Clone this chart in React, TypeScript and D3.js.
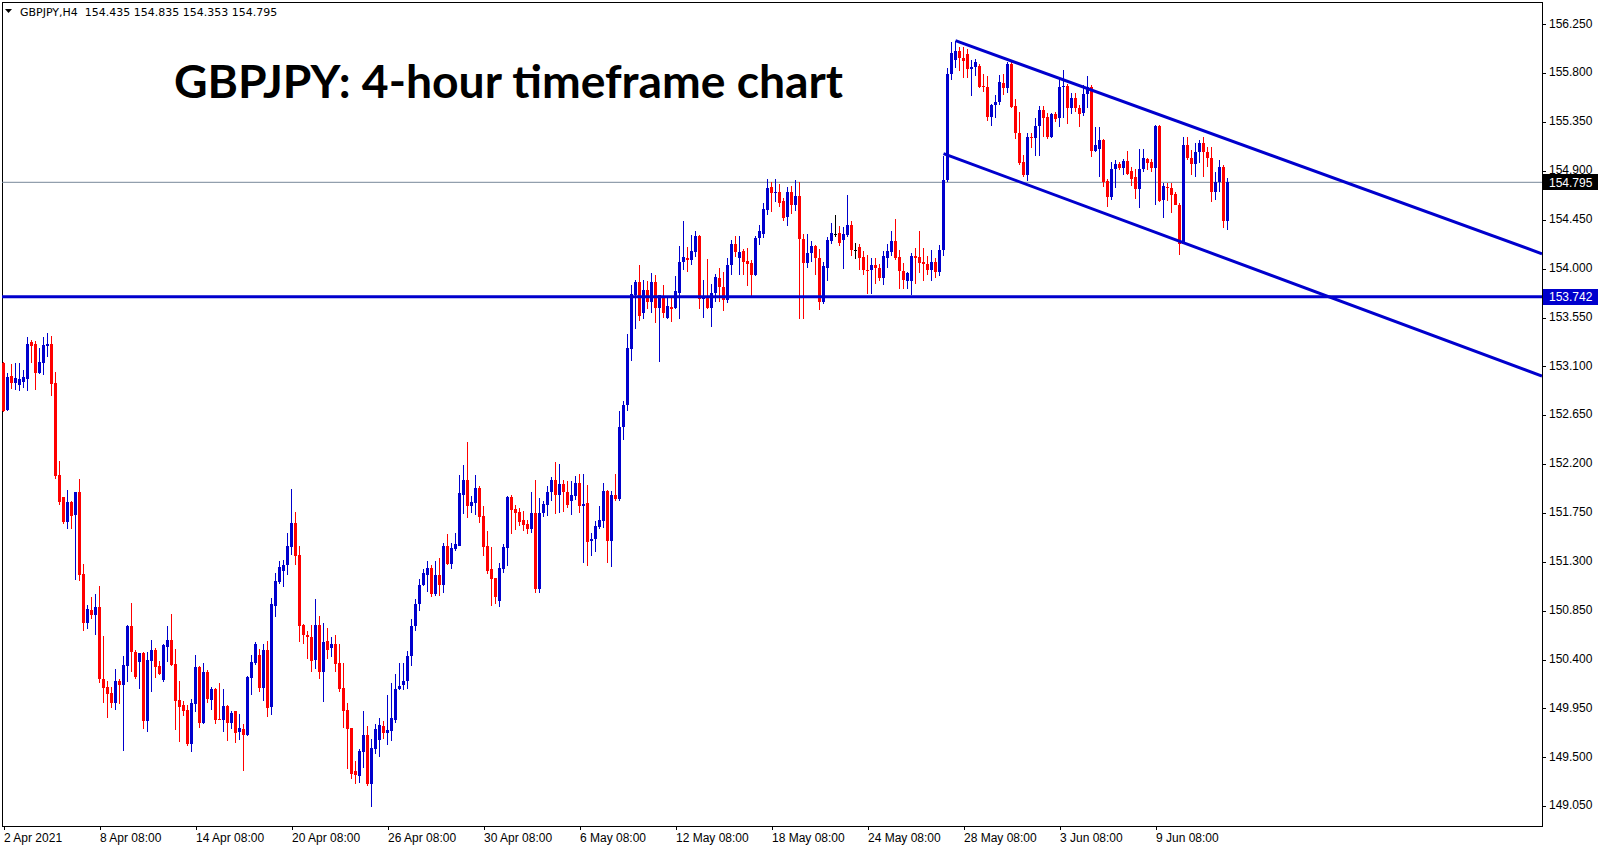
import React from 'react';
import * as d3 from 'd3';

const W = 1607;
const H = 850;

// 4-hour bars from 2 Apr 2021 08:00, [open, high, low, close]
const ohlc: [number, number, number, number][] = [
  [153.13,153.14,152.68,152.69],[152.70,153.04,152.69,153.00],[153.01,153.12,152.89,152.95],[152.95,153.13,152.88,152.99],
  [152.93,153.13,152.87,152.98],[152.96,153.07,152.90,153.00],[152.98,153.37,152.87,153.31],[153.32,153.34,153.13,153.29],
  [153.31,153.33,152.88,153.04],[153.04,153.27,153.03,153.14],[153.13,153.37,153.02,153.30],[153.29,153.41,153.19,153.31],
  [153.31,153.38,152.83,152.94],[152.95,153.05,152.06,152.09],[152.10,152.23,151.82,151.85],[151.90,151.90,151.65,151.67],
  [151.67,151.96,151.60,151.85],[151.85,151.86,151.60,151.72],[151.73,151.94,151.13,151.94],[151.94,152.06,151.12,151.18],
  [151.19,151.28,150.66,150.74],[150.74,150.90,150.68,150.87],[150.86,150.98,150.77,150.81],[150.81,151.00,150.63,150.88],
  [150.88,151.08,150.18,150.22],[150.22,150.62,150.00,150.14],[150.15,150.20,149.86,150.08],[150.09,150.15,149.95,150.00],
  [150.00,150.31,149.94,150.20],[150.20,150.22,149.99,150.17],[150.17,150.43,149.56,150.35],[150.34,150.72,150.19,150.71],
  [150.71,150.92,150.29,150.47],[150.47,150.49,150.22,150.24],[150.38,150.46,150.13,150.46],[150.46,150.47,149.76,149.83],
  [149.83,150.47,149.73,150.40],[150.39,150.58,150.10,150.49],[150.49,150.51,150.23,150.33],[150.34,150.39,150.26,150.27],
  [150.21,150.54,150.19,150.53],[150.52,150.71,150.38,150.58],[150.58,150.82,150.34,150.35],[150.36,150.50,149.75,150.02],
  [150.03,150.20,149.64,149.96],[149.98,150.02,149.88,149.93],[149.94,149.98,149.60,149.62],[149.62,150.04,149.55,150.00],
  [149.99,150.44,149.92,150.33],[150.33,150.34,149.77,149.82],[149.82,150.37,149.81,150.29],[150.29,150.30,150.00,150.04],
  [150.03,150.15,149.94,150.13],[150.13,150.14,149.81,149.84],[149.85,150.18,149.84,149.84],[149.84,150.13,149.73,149.97],
  [149.97,149.98,149.65,149.82],[149.82,149.93,149.76,149.91],[149.93,149.93,149.63,149.72],[149.73,149.90,149.66,149.77],
  [149.76,149.81,149.37,149.71],[149.71,150.25,149.70,150.24],[150.23,150.44,150.07,150.38],[150.37,150.56,150.35,150.54],
  [150.44,150.50,150.10,150.14],[150.14,150.54,150.02,150.49],[150.49,150.57,149.87,149.95],[149.96,150.97,149.89,150.91],
  [150.89,151.20,150.79,151.12],[151.11,151.31,151.10,151.25],[151.22,151.32,151.07,151.27],[151.27,151.57,151.18,151.45],
  [151.44,151.97,151.36,151.66],[151.66,151.76,151.27,151.35],[151.36,151.45,150.56,150.71],[150.72,150.73,150.54,150.63],
  [150.63,150.66,150.41,150.61],[150.61,150.72,150.29,150.39],[150.40,150.96,150.31,150.72],[150.72,150.80,150.22,150.29],
  [150.29,150.74,150.01,150.56],[150.57,150.69,150.41,150.49],[150.51,150.61,150.42,150.54],[150.54,150.63,150.29,150.36],
  [150.37,150.54,150.10,150.13],[150.14,150.37,149.77,149.93],[149.94,150.00,149.39,149.76],[149.77,149.77,149.30,149.35],
  [149.37,149.47,149.25,149.34],[149.33,149.58,149.26,149.56],[149.55,149.93,149.40,149.71],[149.71,149.79,149.24,149.25],
  [149.25,149.67,149.04,149.59],[149.58,149.81,149.53,149.76],[149.66,149.86,149.50,149.80],[149.79,149.83,149.67,149.72],
  [149.72,150.07,149.61,149.75],[149.74,150.18,149.65,149.86],[149.84,150.27,149.82,150.13],[150.13,150.37,150.12,150.16],
  [150.17,150.37,150.12,150.20],[150.20,150.48,150.13,150.43],[150.43,150.77,150.34,150.71],[150.71,150.96,150.66,150.91],
  [150.91,151.14,150.85,151.09],[151.09,151.23,151.08,151.20],[151.18,151.31,151.02,151.24],[151.24,151.27,150.98,151.00],
  [151.00,151.31,150.99,151.18],[151.18,151.34,150.99,151.09],[151.09,151.47,151.01,151.45],[151.45,151.56,151.27,151.28],
  [151.28,151.47,151.23,151.43],[151.42,151.57,151.40,151.46],[151.45,152.10,151.45,151.93],[151.92,152.19,151.74,152.05],
  [152.05,152.40,151.70,151.81],[151.81,151.91,151.75,151.85],[151.84,152.10,151.73,151.98],[151.98,152.00,151.66,151.71],
  [151.72,151.81,151.35,151.44],[151.45,151.58,151.19,151.22],[151.23,151.44,150.89,151.14],[151.15,151.15,150.91,150.98],
  [150.94,151.29,150.88,151.24],[151.23,151.46,151.20,151.44],[151.43,151.91,151.26,151.90],[151.90,151.92,151.56,151.78],
  [151.79,151.82,151.59,151.75],[151.76,151.80,151.63,151.67],[151.69,151.77,151.58,151.64],[151.65,151.69,151.56,151.60],
  [151.60,151.94,151.57,151.75],[151.75,152.05,151.01,151.05],[151.05,151.89,151.01,151.75],[151.75,151.86,151.71,151.83],
  [151.82,152.00,151.72,151.94],[151.94,152.08,151.86,152.05],[152.05,152.22,151.74,151.92],[151.92,152.20,151.75,152.02],
  [152.02,152.05,151.76,151.94],[151.94,152.04,151.80,151.82],[151.86,152.04,151.73,151.92],[151.91,152.09,151.87,152.03],
  [152.03,152.11,151.75,151.81],[151.81,152.11,151.29,151.83],[151.84,152.01,151.26,151.48],[151.49,151.57,151.35,151.51],
  [151.51,151.68,151.39,151.63],[151.62,151.81,151.60,151.69],[151.68,152.03,151.61,151.95],[151.95,151.96,151.29,151.49],
  [151.49,151.95,151.25,151.92],[151.92,152.11,151.86,151.88],[151.88,152.69,151.86,152.54],[152.54,152.78,152.42,152.74],
  [152.74,153.40,152.69,153.27],[153.26,153.85,153.15,153.77],[153.76,153.90,153.44,153.88],[153.88,154.03,153.52,153.56],
  [153.59,153.90,153.54,153.80],[153.80,153.89,153.63,153.69],[153.69,153.96,153.59,153.88],[153.88,153.94,153.50,153.64],
  [153.64,153.76,153.14,153.76],[153.74,153.85,153.55,153.59],[153.55,153.73,153.54,153.66],[153.65,153.74,153.51,153.63],
  [153.64,153.93,153.63,153.79],[153.78,154.21,153.54,154.06],[154.06,154.44,153.99,154.11],[154.10,154.20,153.97,154.08],
  [154.08,154.31,154.03,154.16],[154.15,154.35,154.11,154.30],[154.30,154.31,153.63,153.72],[153.72,153.90,153.55,153.75],
  [153.75,154.09,153.63,153.64],[153.64,153.86,153.46,153.78],[153.78,153.95,153.69,153.92],[153.91,154.01,153.69,153.83],
  [153.83,153.97,153.61,153.71],[153.71,154.10,153.68,154.03],[154.03,154.26,153.94,154.23],[154.23,154.30,154.11,154.15],
  [154.10,154.30,153.94,154.15],[154.16,154.18,153.94,154.06],[154.07,154.19,153.84,154.04],[154.05,154.08,153.75,153.94],
  [153.94,154.30,153.93,154.28],[154.28,154.40,154.22,154.35],[154.32,154.60,154.28,154.55],[154.54,154.83,154.49,154.74],
  [154.75,154.80,154.52,154.70],[154.70,154.83,154.61,154.71],[154.71,154.78,154.57,154.60],[154.62,154.65,154.44,154.47],
  [154.48,154.75,154.39,154.71],[154.71,154.76,154.50,154.59],[154.59,154.82,154.53,154.67],[154.67,154.80,153.54,154.27],
  [154.27,154.32,153.54,154.05],[154.05,154.32,154.01,154.14],[154.14,154.25,154.06,154.21],[154.21,154.22,153.94,154.10],
  [154.10,154.18,153.62,153.69],[153.69,154.06,153.67,154.02],[154.01,154.29,153.89,154.26],[154.25,154.42,154.23,154.33],
  [154.32,154.49,154.29,154.32],[154.33,154.39,154.21,154.24],[154.26,154.38,154.00,154.32],[154.31,154.68,154.29,154.40],
  [154.40,154.44,154.12,154.17],[154.17,154.24,154.09,154.17],[154.20,154.23,153.99,154.10],[154.11,154.16,153.94,153.99],
  [153.99,154.13,153.77,153.98],[153.99,154.10,153.77,154.03],[154.03,154.10,153.86,154.01],[154.01,154.04,153.89,153.91],
  [153.91,154.16,153.85,154.12],[154.10,154.23,154.01,154.16],[154.15,154.35,154.12,154.25],[154.25,154.46,154.08,154.10],
  [154.11,154.17,153.81,153.98],[153.98,154.05,153.81,153.90],[153.89,153.97,153.81,153.96],[153.89,154.14,153.76,154.12],
  [154.12,154.19,153.86,154.10],[154.11,154.35,153.96,154.05],[154.06,154.19,153.89,154.04],[154.04,154.12,153.94,153.99],
  [153.99,154.17,153.89,154.06],[154.06,154.10,153.91,153.97],[153.97,154.22,153.93,154.17],[154.17,155.04,154.12,154.82],
  [154.82,155.85,154.80,155.79],[155.79,156.09,155.74,155.99],[155.92,156.10,155.85,156.00],[156.00,156.04,155.82,155.94],
  [155.94,156.04,155.76,155.91],[155.98,156.02,155.76,155.84],[155.84,155.92,155.59,155.86],[155.86,155.93,155.77,155.90],
  [155.87,155.88,155.66,155.67],[155.68,155.79,155.63,155.67],[155.67,155.77,155.36,155.40],[155.40,155.52,155.31,155.51],
  [155.51,155.60,155.39,155.53],[155.53,155.78,155.51,155.72],[155.71,155.79,155.60,155.66],[155.66,155.90,155.62,155.88],
  [155.88,155.90,155.48,155.49],[155.50,155.56,155.19,155.25],[155.25,155.44,154.95,154.97],[154.98,155.05,154.84,154.86],
  [154.86,155.25,154.81,155.21],[155.21,155.25,155.11,155.20],[155.20,155.39,155.04,155.31],[155.31,155.50,155.04,155.46],
  [155.46,155.50,155.21,155.39],[155.40,155.43,155.19,155.21],[155.21,155.43,155.20,155.42],[155.42,155.44,155.35,155.38],
  [155.39,155.74,155.30,155.67],[155.67,155.83,155.39,155.68],[155.68,155.70,155.33,155.48],[155.48,155.62,155.42,155.57],
  [155.57,155.62,155.44,155.48],[155.48,155.51,155.30,155.42],[155.43,155.69,155.41,155.61],[155.61,155.77,155.48,155.67],
  [155.67,155.69,155.03,155.08],[155.08,155.30,155.07,155.14],[155.10,155.30,154.84,155.18],[155.18,155.19,154.75,154.80],
  [154.81,154.83,154.57,154.66],[154.66,154.98,154.63,154.92],[154.92,155.00,154.74,154.96],[154.96,154.98,154.91,154.93],
  [154.93,155.01,154.86,154.99],[154.99,155.08,154.86,154.87],[154.90,154.94,154.76,154.83],[154.84,154.92,154.64,154.73],
  [154.73,155.10,154.56,154.92],[154.92,155.10,154.89,155.02],[155.01,155.02,154.91,154.97],[154.98,155.01,154.89,154.93],
  [154.93,155.32,154.59,155.31],[155.31,155.32,154.61,154.62],[154.63,154.79,154.47,154.76],[154.75,154.79,154.62,154.74],
  [154.74,154.79,154.51,154.68],[154.69,154.71,154.59,154.59],[154.59,154.60,154.13,154.23],[154.23,155.21,154.23,155.14],
  [155.14,155.21,155.00,155.02],[155.02,155.09,154.86,154.96],[154.96,155.16,154.84,155.07],[155.07,155.18,154.97,155.16],
  [155.16,155.21,154.84,155.07],[155.07,155.12,154.94,155.02],[155.02,155.12,154.61,154.71],[154.71,154.89,154.63,154.80],
  [154.80,155.00,154.71,154.94],[154.94,154.95,154.37,154.435],[154.435,154.835,154.353,154.795],
];

// one time label every 24 bars (4 trading days)
const timeLabels = [
  '2 Apr 2021', '8 Apr 08:00', '14 Apr 08:00', '20 Apr 08:00', '26 Apr 08:00', '30 Apr 08:00', '6 May 08:00',
  '12 May 08:00', '18 May 08:00', '24 May 08:00', '28 May 08:00', '3 Jun 08:00', '9 Jun 08:00',
];
const barsPerLabel = 24;

const priceTicks = [
  156.25, 155.8, 155.35, 154.9, 154.45, 154.0, 153.55, 153.1, 152.65, 152.2, 151.75, 151.3, 150.85, 150.4, 149.95, 149.5, 149.05,
];

const supportLevel = 153.742;
const lastPrice = 154.795;

// trend channel anchors: [bar index, price]
const channelUpper: [number, number][] = [[238, 156.1], [300, 155.27]];
const channelLower: [number, number][] = [[235, 155.06], [300, 154.17]];

const BLUE = '#0000cd';
const RED = '#ff0000';
const AXIS_FONT = '"Liberation Sans", Arial, sans-serif';

const left = 2;
const right = 1542;
const top = 2;
const bottom = 826;

const App: React.FC = () => {
  // 4px per bar
  const x = d3.scaleLinear().domain([0, 1]).range([3.5, 7.5]);
  const y = d3.scaleLinear().domain([149.05, 156.25]).range([806.2, 24.3]);
  const lastBar = x.invert(right);

  // extend a two-point trend line out to the right edge of the plot
  const ray = (pts: [number, number][]) => {
    const [[i0, p0], [i1, p1]] = pts;
    const slope = (p1 - p0) / (i1 - i0);
    return d3.line()([
      [x(i0), y(p0)],
      [x(lastBar), y(p0 + slope * (lastBar - i0))],
    ]) as string;
  };

  return (
    <svg width={W} height={H} style={{ position: 'absolute', left: 0, top: 0, background: '#fff' }}>
      <defs>
        <clipPath id="plot">
          <rect x={left} y={top} width={right - left} height={bottom - top} />
        </clipPath>
      </defs>
      <rect x={0} y={0} width={W} height={H} fill="#fff" />

      {/* chart frame */}
      <rect x={left + 0.5} y={top + 0.5} width={right - left} height={bottom - top} fill="none" stroke="#000" strokeWidth={1} shapeRendering="crispEdges" />

      <g clipPath="url(#plot)">
        <line x1={left} x2={right} y1={y(lastPrice)} y2={y(lastPrice)} stroke="#778899" strokeWidth={1} />
        {ohlc.map(([o, h, l, c], i) => {
          const cx = x(i);
          const col = c > o ? BLUE : c < o ? RED : '#000';
          const yt = Math.min(y(o), y(c));
          const yb = Math.max(y(o), y(c));
          return (
            <g key={i} shapeRendering="crispEdges">
              <line x1={cx} x2={cx} y1={y(h)} y2={y(l)} stroke={col} strokeWidth={1} />
              <rect x={cx - 1.5} y={yt} width={3} height={Math.max(1, yb - yt)} fill={col} />
            </g>
          );
        })}
        <line x1={left} x2={right} y1={y(supportLevel)} y2={y(supportLevel)} stroke={BLUE} strokeWidth={3} />
        <path d={ray(channelUpper)} stroke={BLUE} strokeWidth={3} fill="none" />
        <path d={ray(channelLower)} stroke={BLUE} strokeWidth={3} fill="none" />
      </g>

      {/* header */}
      <path d="M5,9 L12,9 L8.5,13 Z" fill="#000" />
      <text x={20} y={16} fontFamily='"DejaVu Sans", sans-serif' fontSize={11} fill="#000" style={{ whiteSpace: 'pre' }}>
        {'GBPJPY,H4  154.435 154.835 154.353 154.795'}
      </text>

      <text x={174} y={98} fontFamily="Lato, sans-serif" fontWeight={700} fontSize={46} textLength={669} lengthAdjust="spacingAndGlyphs" fill="#000">
        GBPJPY: 4-hour timeframe chart
      </text>

      {/* price axis */}
      {priceTicks.map((p) => (
        <g key={p}>
          <line x1={right} x2={right + 4} y1={Math.round(y(p)) + 0.5} y2={Math.round(y(p)) + 0.5} stroke="#000" shapeRendering="crispEdges" />
          <text x={1549} y={y(p) - 1} dy="0.35em" fontFamily={AXIS_FONT} fontSize={12} fill="#000">
            {d3.format('.3f')(p)}
          </text>
        </g>
      ))}
      {[
        { p: supportLevel, fill: BLUE },
        { p: lastPrice, fill: '#000' },
      ].map(({ p, fill }) => (
        <g key={p}>
          <rect x={right + 1} y={Math.round(y(p)) - 8} width={55} height={16} fill={fill} />
          <text x={1549} y={y(p)} dy="0.35em" fontFamily={AXIS_FONT} fontSize={12} fill="#fff">
            {d3.format('.3f')(p)}
          </text>
        </g>
      ))}

      {/* time axis */}
      {timeLabels.map((t, k) => {
        const tx = Math.round(x(k * barsPerLabel)) + 0.5;
        return (
          <g key={t}>
            <line x1={tx} x2={tx} y1={bottom} y2={bottom + 4} stroke="#000" shapeRendering="crispEdges" />
            <text x={tx - 0.5} y={842} fontFamily={AXIS_FONT} fontSize={12} fill="#000">
              {t}
            </text>
          </g>
        );
      })}
    </svg>
  );
};

export default App;
